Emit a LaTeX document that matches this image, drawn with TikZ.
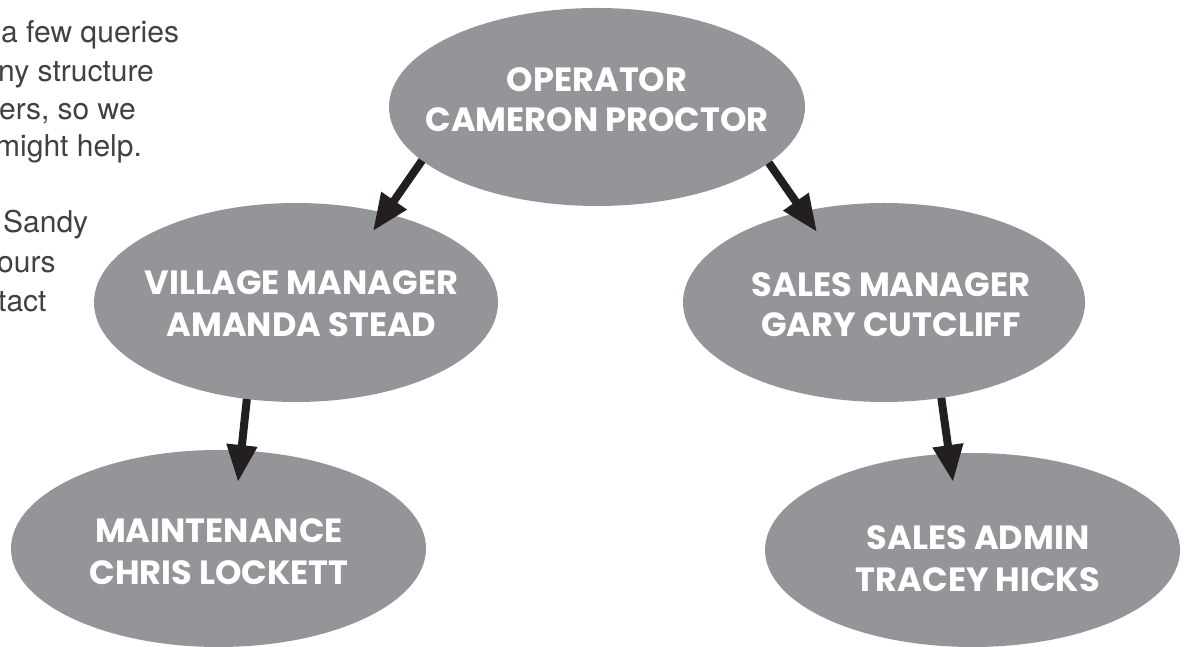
\documentclass[tikz,border=0pt]{standalone}
\usepackage{fontspec}
\setmainfont{TeX Gyre Heros}
\newfontfamily\labfont{Poppins}
\usetikzlibrary{shapes.geometric,arrows.meta,calc}
\definecolor{ellgray}{HTML}{939598}
\definecolor{arrcol}{HTML}{231F20}
\definecolor{txtgray}{HTML}{414042}
\tikzset{
  orgbox/.style={ellipse, fill=ellgray, draw=none, inner sep=0pt, outer sep=0pt},
  lab/.style={anchor=base, text=white, inner sep=0pt, font=\labfont\bfseries\fontsize{33.6}{38}\selectfont},
  para/.style={anchor=base west, text=txtgray, inner sep=0pt, font=\fontsize{30}{38}\selectfont},
  arr/.style={draw=arrcol, line width=8pt, -{Triangle[length=37pt,width=29pt]}}
}
\begin{document}
\begin{tikzpicture}[x=1pt,y=1pt]
\useasboundingbox (0,0) rectangle (1186,647);
% paragraph fragments at the left edge
\node[para] (p1) at (1,604) {a few queries};
\node[para] (p2) at (-2,565) {ny structure};
\node[para] (p3) at (-1,527) {ers, so we};
\node[para] (p4) at (-5,490) {might help.};
\node[para] (p5) at (3,414) {Sandy};
\node[para] (p6) at (-3,374) {ours};
\node[para] (p7) at (-2,335) {tact};
% ellipses
\node[orgbox, minimum width=416pt, minimum height=198pt] (op) at (597,540) {};
\node[orgbox, minimum width=404pt, minimum height=199pt] (vm) at (296,344.5) {};
\node[orgbox, minimum width=402pt, minimum height=199pt] (sm) at (884,344.5) {};
\node[orgbox, minimum width=415pt, minimum height=197pt] (mt) at (218.5,98.5) {};
\node[orgbox, minimum width=415pt, minimum height=194pt] (sa) at (972.5,97) {};
% labels
\node[lab] (op1) at (597,555) {OPERATOR};
\node[lab] (op2) at (597,515) {CAMERON PROCTOR};
\node[lab] (vm1) at (301.5,352) {VILLAGE MANAGER};
\node[lab] (vm2) at (301.5,310) {AMANDA STEAD};
\node[lab] (sm1) at (891,350) {SALES MANAGER};
\node[lab] (sm2) at (891,310) {GARY CUTCLIFF};
\node[lab] (mt1) at (219,104) {MAINTENANCE};
\node[lab] (mt2) at (219,62) {CHRIS LOCKETT};
\node[lab] (sa1) at (978,97) {SALES ADMIN};
\node[lab] (sa2) at (978,55) {TRACEY HICKS};
% arrow tips
\coordinate (t1) at ($(vm.center)+(77,71.5)$);
\coordinate (t2) at ($(sm.center)+(-67,70.5)$);
\coordinate (t3) at ($(mt.center)+(19.5,66.5)$);
\coordinate (t4) at ($(sa.center)+(-19.5,68)$);
% connectors
\draw[arr] (op.197.5) -- (t1);
\draw[arr] (op.342.1) -- (t2);
\draw[arr] (vm.243.8) -- (t3);
\draw[arr] (sm.301.7) -- (t4);
\end{tikzpicture}
\end{document}
